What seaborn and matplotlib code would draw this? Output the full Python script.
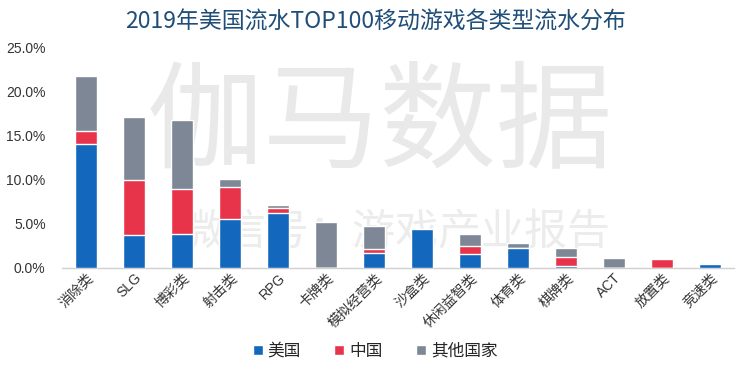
import numpy as np
import pandas as pd
import matplotlib.pyplot as plt
import seaborn as sns
from matplotlib.patches import Patch
from matplotlib.ticker import FuncFormatter

# Data (% of revenue)
categories = ["消除类", "SLG", "博彩类", "射击类", "RPG", "卡牌类", "模拟经营类",
              "沙盒类", "休闲益智类", "体育类", "棋牌类", "ACT", "放置类", "竞速类"]
usa = [14.0, 3.7, 3.8, 5.5, 6.2, 0.0, 1.7, 4.4, 1.6, 2.3, 0.25, 0.0, 0.0, 0.45]
china = [1.5, 6.3, 5.1, 3.7, 0.6, 0.0, 0.4, 0.0, 0.9, 0.0, 1.0, 0.0, 1.0, 0.0]
other = [6.2, 7.1, 7.8, 0.9, 0.3, 5.2, 2.65, 0.0, 1.35, 0.5, 1.05, 1.1, 0.0, 0.0]
series_names = ["美国", "中国", "其他国家"]
colors = ["#1368BE", "#E8344B", "#7D8796"]

df = pd.DataFrame({"cat": categories, "usa": usa, "china": china, "other": other})
df["usa_cn"] = df["usa"] + df["china"]
df["total"] = df["usa_cn"] + df["other"]

sns.set_style("white")
plt.rcParams["font.family"] = ["Liberation Sans", "Noto Sans CJK SC", "DejaVu Sans"]
cjk = ["Noto Sans CJK SC", "DejaVu Sans"]

fig = plt.figure(figsize=(7.5, 3.68), dpi=100)
ax = fig.add_axes([0.083, 0.272, 0.896, 0.6])

# watermark, behind the bars
ax.text(0.507, 0.66, "伽马数据", ha="center", va="center", fontsize=84,
        color="#E9E9E9", zorder=0, transform=fig.transFigure, family=cjk,
        fontweight="light")
ax.text(0.527, 0.365, "微信号：游戏产业报告", ha="center", va="center", fontsize=31,
        color="#ECECEC", zorder=0, transform=fig.transFigure, family=cjk,
        fontweight="light")

# stacked bars drawn as overlays
sns.barplot(data=df, x="cat", y="total", color=colors[2], width=0.46,
            saturation=1, ax=ax, zorder=2)
sns.barplot(data=df, x="cat", y="usa_cn", color=colors[1], width=0.46,
            saturation=1, ax=ax, zorder=3)
sns.barplot(data=df, x="cat", y="usa", color=colors[0], width=0.46,
            saturation=1, ax=ax, zorder=4)

ax.set_ylim(0, 25)
ax.set_xlim(-0.5, len(categories) - 0.5)
ax.set_yticks([0, 5, 10, 15, 20, 25])
ax.yaxis.set_major_formatter(FuncFormatter(lambda v, p: f"{v:.1f}%"))
ax.set_xlabel("")
ax.set_ylabel("")
ax.tick_params(axis="y", labelsize=10, colors="#333333", length=0, pad=12)
ax.tick_params(axis="x", labelsize=10, colors="#333333", length=0, pad=2)
plt.setp(ax.get_xticklabels(), rotation=45, ha="right", rotation_mode="anchor")

for s in ["top", "right", "left"]:
    ax.spines[s].set_visible(False)
ax.spines["bottom"].set_color("#D0D0D0")
ax.spines["bottom"].set_linewidth(1)

fig.text(0.5, 0.94, "2019年美国流水TOP100移动游戏各类型流水分布", ha="center",
         va="center", fontsize=16.5, color="#1F4E79", family=cjk)

handles = [Patch(facecolor=c, label=n) for c, n in zip(colors, series_names)]
fig.legend(handles=handles, loc="center", bbox_to_anchor=(0.5, 0.045), ncol=3,
           frameon=False, handlelength=0.6, handleheight=0.6,
           handletextpad=0.3, columnspacing=2.0, prop={"family": cjk, "size": 12})

fig.savefig("out.png", dpi=100)
